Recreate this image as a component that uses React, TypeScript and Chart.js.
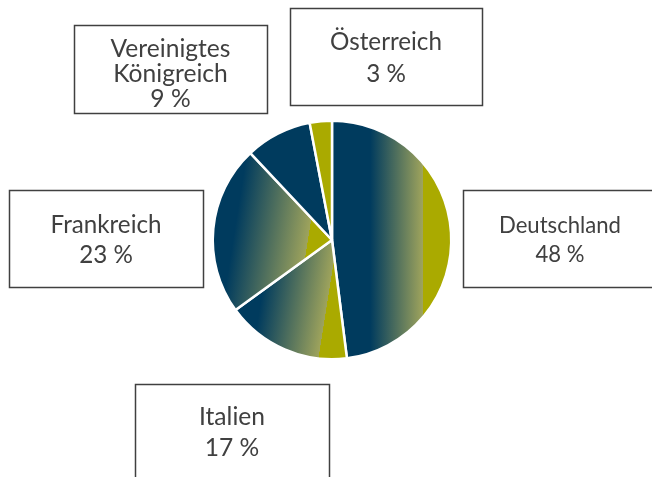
import { useEffect, useRef } from "react";
import { Chart, registerables } from "chart.js";
Chart.register(...registerables);

// ---- data ----
const categories = ["Deutschland", "Italien", "Frankreich", "Vereinigtes\nKönigreich", "Österreich"];
const shares = [48, 17, 23, 9, 3];

// ---- styles ----
const DARK = "rgb(0,59,94)";
const LIGHT = "rgb(158,163,92)";
const OLIVE = "rgb(170,170,0)";
const TEXT = "#404040";
const BOX_LINE = "#404040";
const FONT_FAMILY = "Lato, 'Open Sans', sans-serif";

type Fill = { solid?: string; s1?: number; s2?: number; angle?: number };
const sliceFills: Fill[] = [
  { s1: 0.32, s2: 0.76, angle: 0 },
  { s1: 0.2, s2: 0.76, angle: 9 },
  { s1: 0.18, s2: 0.8, angle: 9 },
  { solid: DARK },
  { solid: OLIVE },
];

// label box layout: position/size, first baseline offset, line height, width of first text line
const labelBoxes = [
  { x: 463, y: 190, w: 194, h: 97, first: 43.3, lh: 28.5, fit: 122 },
  { x: 135, y: 384, w: 194, h: 97, first: 41, lh: 31, fit: 66 },
  { x: 9, y: 190, w: 194, h: 97, first: 43.3, lh: 30, fit: 111 },
  { x: 74, y: 25, w: 193, h: 88, first: 31.5, lh: 25, fit: 120 },
  { x: 290, y: 8, w: 192, h: 97, first: 42, lh: 31.5, fit: 112 },
];

const BORDER = 2.5;

function sliceGradient(chart: any, i: number) {
  const f = sliceFills[i];
  if (f.solid) return f.solid;
  const area = chart.chartArea;
  if (!area) return DARK;
  const cx = (area.left + area.right) / 2;
  const cy = (area.top + area.bottom) / 2;
  const r = (Math.min(area.width, area.height) - BORDER) / 2;
  const total = shares.reduce((a, b) => a + b, 0);
  let cum = 0;
  for (let k = 0; k < i; k++) cum += shares[k];
  const a0 = -Math.PI / 2 + (cum / total) * Math.PI * 2;
  const a1 = -Math.PI / 2 + ((cum + shares[i]) / total) * Math.PI * 2;
  const pts: [number, number][] = [[cx, cy]];
  const steps = 90;
  for (let s = 0; s <= steps; s++) {
    const a = a0 + ((a1 - a0) * s) / steps;
    pts.push([cx + r * Math.cos(a), cy + r * Math.sin(a)]);
  }
  const th = ((f.angle || 0) * Math.PI) / 180;
  const dx = Math.cos(th), dy = Math.sin(th);
  let pmin = Infinity, pmax = -Infinity;
  let minX = Infinity, maxX = -Infinity, minY = Infinity, maxY = -Infinity;
  for (const [x, y] of pts) {
    const p = x * dx + y * dy;
    pmin = Math.min(pmin, p);
    pmax = Math.max(pmax, p);
    minX = Math.min(minX, x); maxX = Math.max(maxX, x);
    minY = Math.min(minY, y); maxY = Math.max(maxY, y);
  }
  const mx = (minX + maxX) / 2, my = (minY + maxY) / 2;
  const pm = mx * dx + my * dy;
  const g = chart.ctx.createLinearGradient(
    mx + dx * (pmin - pm), my + dy * (pmin - pm),
    mx + dx * (pmax - pm), my + dy * (pmax - pm)
  );
  g.addColorStop(0, DARK);
  g.addColorStop(f.s1!, DARK);
  g.addColorStop(f.s2!, LIGHT);
  g.addColorStop(Math.min(1, f.s2! + 0.001), OLIVE);
  g.addColorStop(1, OLIVE);
  return g;
}

const boxLabelPlugin = {
  id: "boxLabels",
  afterDraw(chart: any) {
    const ctx = chart.ctx as CanvasRenderingContext2D;
    ctx.save();
    labelBoxes.forEach((b, i) => {
      ctx.fillStyle = "#ffffff";
      ctx.fillRect(b.x, b.y, b.w, b.h);
      ctx.strokeStyle = BOX_LINE;
      ctx.lineWidth = 1.5;
      ctx.strokeRect(b.x + 0.5, b.y + 0.5, b.w, b.h);
      const lines = categories[i].split("\n").concat(`${shares[i]} %`);
      ctx.font = `100px ${FONT_FAMILY}`;
      const w = ctx.measureText(lines[0]).width;
      const size = (100 * b.fit) / w;
      ctx.fillStyle = TEXT;
      ctx.font = `${size}px ${FONT_FAMILY}`;
      ctx.textAlign = "center";
      ctx.textBaseline = "alphabetic";
      lines.forEach((t, j) => {
        ctx.fillText(t, b.x + b.w / 2, b.y + b.first + j * b.lh);
      });
    });
    ctx.restore();
  },
};

export default function App() {
  const ref = useRef<HTMLCanvasElement>(null);
  useEffect(() => {
    if (!ref.current) return;
    const chart = new Chart(ref.current, {
      type: "pie",
      data: {
        labels: categories.map((c) => c.replace("\n", " ")),
        datasets: [
          {
            data: shares,
            backgroundColor: (c: any) => sliceGradient(c.chart, c.dataIndex),
            borderColor: "#ffffff",
            borderWidth: BORDER,
            hoverOffset: 0,
            offset: 0,
          },
        ],
      },
      options: {
        responsive: false,
        animation: false,
        layout: { padding: { left: 12, right: 0, top: 119.5, bottom: 116.5 } },
        plugins: {
          legend: { display: false },
          tooltip: { enabled: false },
        },
        events: [],
      },
      plugins: [boxLabelPlugin],
    });
    return () => chart.destroy();
  }, []);
  return (
    <div style={{ position: "absolute", left: 0, top: 0, width: 652, height: 477, background: "#fff" }}>
      <canvas ref={ref} width={652} height={477} />
    </div>
  );
}
